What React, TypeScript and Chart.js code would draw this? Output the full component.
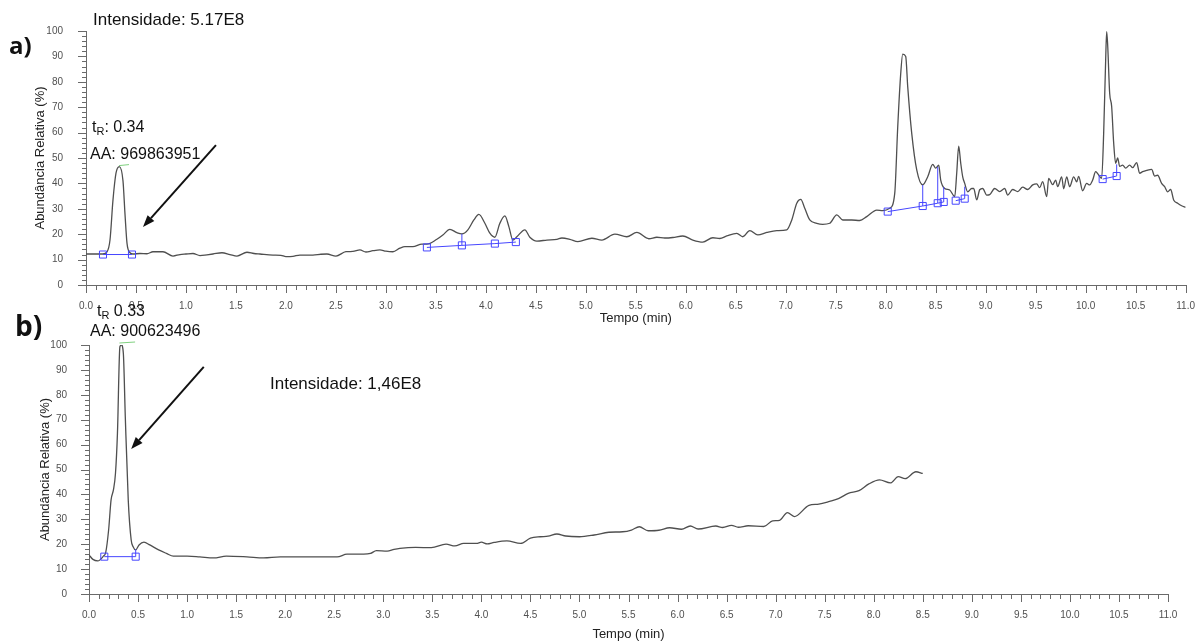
import React, { useEffect, useRef } from 'react';
import { Chart, registerables } from 'chart.js';

Chart.register(...registerables);

// ---------- Panel a) data ----------
const timeA = [
  0.0, 0.1, 0.17, 0.21, 0.24, 0.27, 0.3, 0.333, 0.37, 0.39, 0.41, 0.44, 0.47, 0.54, 0.61, 0.67, 0.77, 0.87, 0.94,
  1.0, 1.07, 1.14, 1.21, 1.27, 1.36, 1.44, 1.51, 1.61, 1.68, 1.74, 1.87, 1.95, 2.0, 2.07, 2.14, 2.27, 2.35, 2.41,
  2.5, 2.6, 2.67, 2.74, 2.8, 2.87, 2.94, 3.0, 3.07, 3.14, 3.19, 3.27, 3.36, 3.41, 3.51, 3.57, 3.64, 3.71, 3.76,
  3.82, 3.88, 3.93, 3.99, 4.04, 4.09, 4.14, 4.19, 4.23, 4.27, 4.31, 4.39, 4.44, 4.51, 4.61, 4.71, 4.76, 4.84,
  4.92, 5.06, 5.16, 5.29, 5.41, 5.51, 5.63, 5.71, 5.79, 5.87, 5.97, 6.07, 6.17, 6.27, 6.34, 6.41, 6.51, 6.57,
  6.64, 6.72, 6.81, 6.91, 7.01, 7.06, 7.11, 7.15, 7.19, 7.24, 7.31, 7.37, 7.44, 7.51, 7.57, 7.66, 7.74, 7.81,
  7.91, 7.97, 8.04, 8.09, 8.12, 8.15, 8.17, 8.2, 8.22, 8.26, 8.31, 8.37, 8.42, 8.47, 8.5, 8.53, 8.55, 8.59,
  8.64, 8.69, 8.71, 8.73, 8.75, 8.77, 8.79, 8.82, 8.86, 8.88, 8.91, 8.94, 8.97, 9.01, 9.04, 9.09, 9.14, 9.19,
  9.22, 9.27, 9.32, 9.37, 9.42, 9.47, 9.51, 9.54, 9.57, 9.61, 9.63, 9.67, 9.7, 9.72, 9.76, 9.78, 9.81, 9.84,
  9.88, 9.91, 9.93, 9.97, 10.01, 10.04, 10.07, 10.1, 10.13, 10.16, 10.18, 10.2, 10.21, 10.22, 10.24, 10.26,
  10.28, 10.3, 10.32, 10.34, 10.37, 10.4, 10.44, 10.47, 10.51, 10.54, 10.57, 10.61, 10.66, 10.69, 10.72,
  10.76, 10.79, 10.82, 10.85, 10.88, 10.92, 10.96, 11.0,
];
const abundanceA = [
  12.2, 12.2, 12.2, 13.0, 17.7, 33.5, 44.0, 46.6, 41.0, 28.0, 16.5, 12.7, 12.2, 12.4, 12.3, 13.1, 13.1, 11.4, 12.0,
  12.2, 12.4, 11.6, 11.9, 12.2, 12.7, 12.0, 11.4, 12.9, 12.4, 12.2, 11.8, 11.7, 11.2, 11.3, 11.8, 11.8, 12.1, 12.2,
  11.4, 13.1, 13.2, 13.8, 13.0, 13.5, 13.8, 13.3, 13.1, 14.5, 15.1, 15.1, 16.1, 16.1, 18.0, 19.7, 21.9, 20.6, 20.1,
  21.7, 25.6, 27.8, 24.3, 20.4, 18.8, 24.3, 27.2, 23.0, 17.7, 19.0, 21.7, 18.8, 17.3, 17.7, 18.0, 18.5, 18.0,
  17.1, 18.4, 17.7, 20.0, 19.0, 20.7, 18.2, 18.8, 18.5, 18.7, 19.3, 17.7, 16.9, 18.6, 18.3, 19.3, 20.3, 19.0,
  21.4, 19.7, 20.7, 21.4, 21.7, 25.6, 32.2, 33.7, 30.2, 25.6, 24.3, 23.9, 24.3, 27.6, 25.6, 25.6, 25.4, 26.9,
  29.5, 29.3, 30.2, 36.1, 62.3, 83.3, 90.9, 90.0, 78.0, 59.7, 45.3, 39.4, 42.6, 47.5, 46.0, 47.2, 41.3, 38.0,
  37.4, 34.8, 44.0, 54.7, 48.0, 42.6, 40.0, 36.7, 38.0, 38.0, 33.5, 37.5, 38.0, 35.4, 35.6, 38.0, 36.8, 38.0,
  35.4, 37.6, 36.8, 38.5, 37.6, 39.4, 39.8, 38.3, 40.7, 34.8, 42.0, 39.5, 41.3, 38.7, 42.6, 37.9, 42.6, 38.7,
  42.6, 40.6, 42.8, 37.1, 40.0, 39.4, 41.3, 44.6, 43.3, 42.0, 59.7, 88.6, 99.7, 94.5, 75.5, 70.3,
  56.0, 47.9, 50.0, 46.7, 47.2, 46.0, 47.2, 46.2, 48.2, 44.0, 44.6, 45.1, 45.5, 42.9, 43.2,
  40.0, 38.7, 36.7, 37.6, 33.5, 32.2, 31.2, 30.6,
];
// integration baselines (t, %) for panel a)
const baselinesA: [number, number][][] = [
  [[0.17, 12.0], [0.46, 12.0]],
  [[3.41, 14.8], [3.76, 15.6], [4.09, 16.3], [4.3, 16.9]],
  [[8.02, 28.9], [8.37, 31.1], [8.52, 32.2], [8.58, 32.7]],
  [[8.7, 33.2], [8.79, 34.0]],
  [[10.17, 41.7], [10.31, 42.9]],
];
const dropsA: [number, number][][] = [
  [[3.76, 15.6], [3.76, 20.1]],
  [[8.37, 31.1], [8.37, 39.4]],
  [[8.52, 32.2], [8.52, 46.5]],
  [[8.58, 32.7], [8.58, 38.5]],
  [[8.79, 34.0], [8.79, 38.7]],
  [[10.31, 42.9], [10.31, 47.5]],
];

// ---------- Panel b) data ----------
const timeB = [
  0.0, 0.04, 0.09, 0.147, 0.17, 0.2, 0.225, 0.25, 0.27, 0.29, 0.315, 0.33, 0.35, 0.37, 0.4, 0.43, 0.45, 0.476,
  0.51, 0.56, 0.62, 0.71, 0.79, 0.86, 1.0, 1.13, 1.27, 1.4, 1.61, 1.78, 1.95, 2.15, 2.36, 2.53, 2.63, 2.8, 2.87,
  2.93, 3.04, 3.11, 3.17, 3.33, 3.49, 3.64, 3.73, 3.82, 3.95, 4.0, 4.06, 4.13, 4.26, 4.4, 4.5, 4.6, 4.68, 4.77,
  4.86, 5.0, 5.15, 5.3, 5.44, 5.53, 5.61, 5.7, 5.81, 5.92, 6.04, 6.13, 6.21, 6.39, 6.46, 6.55, 6.62, 6.72, 6.88,
  6.97, 7.04, 7.12, 7.19, 7.34, 7.44, 7.55, 7.64, 7.74, 7.85, 7.95, 8.06, 8.17, 8.25, 8.32, 8.43, 8.5,
];
const abundanceB = [
  15.7, 13.9, 13.3, 15.2, 16.6, 25.7, 37.8, 42.0, 48.5, 64.5, 99.3, 100.0, 96.7, 71.2, 37.8, 21.7, 19.0, 17.7,
  19.7, 20.8, 19.7, 17.7, 16.3, 15.2, 15.2, 14.9, 14.5, 15.2, 14.9, 14.5, 14.9, 14.9, 14.9, 14.9, 16.0, 16.0, 16.3,
  17.4, 17.2, 17.9, 18.3, 18.7, 18.6, 20.0, 19.3, 20.3, 20.3, 20.8, 20.1, 20.7, 21.3, 20.3, 22.4, 23.0, 23.2, 24.1,
  23.3, 23.0, 23.7, 24.8, 25.0, 25.7, 27.0, 25.4, 25.6, 26.6, 26.0, 27.3, 26.1, 27.3, 26.7, 27.6, 26.8, 27.4, 27.1,
  29.4, 29.6, 32.7, 31.1, 35.6, 36.1, 37.2, 38.3, 40.4, 41.5, 44.2, 45.8, 44.6, 47.1, 46.3, 49.1, 48.4,
];
const baselinesB: [number, number][][] = [
  [[0.156, 15.0], [0.476, 15.0]],
];
const dropsB: [number, number][][] = [
  [[0.476, 15.0], [0.476, 18.0]],
];

const X_MIN = 0;
const X_MAX = 11;
const Y_MIN = 0;
const Y_MAX = 100;

const FONT = '"Liberation Sans", Arial, sans-serif';
const LINE = '#4f4f4f';
const AXIS = '#6a6a6a';
const TICK_TXT = '#505050';
const BLUE = '#4646ff';
const GREEN = '#7fd07f';

type Txt = { text: string; sub?: string; rest?: string; x: number; y: number; size: number; bold?: boolean };
type Arrow = { from: [number, number]; to: [number, number] };
type PanelCfg = {
  times: number[];
  values: number[];
  baselines: [number, number][][];
  drops: [number, number][][];
  texts: Txt[];
  arrows: Arrow[];
  greens: [number, number, number][]; // t1, t2, y
  padTop: number;
  padRight: number;
  padBottom: number;
  xAxisH: number;
  yAxisW: number;
  yTickPad: number;
  yTitlePad: number;
  xTitlePad: number;
};

const decorPlugin = (cfg: PanelCfg) => ({
  id: 'decor',
  afterDraw(chart: any) {
    const { ctx } = chart;
    const x = chart.scales.x;
    const y = chart.scales.y;
    ctx.save();
    // minor/major ticks
    ctx.strokeStyle = AXIS;
    ctx.lineWidth = 1;
    ctx.beginPath();
    for (let i = 0; i <= 110; i++) {
      const px = Math.round(x.getPixelForValue(i / 10)) + 0.5;
      const len = i % 5 === 0 ? 8 : 5;
      ctx.moveTo(px, y.bottom);
      ctx.lineTo(px, y.bottom + len);
    }
    for (let v = 0; v <= 100; v += 2) {
      const py = Math.round(y.getPixelForValue(v)) + 0.5;
      const len = v % 10 === 0 ? 8 : 4;
      ctx.moveTo(x.left - len, py);
      ctx.lineTo(x.left, py);
    }
    ctx.stroke();

    // green apex marks
    ctx.strokeStyle = GREEN;
    ctx.lineWidth = 1;
    for (const [t1, t2, v] of cfg.greens) {
      ctx.beginPath();
      ctx.moveTo(x.getPixelForValue(t1), y.getPixelForValue(v) + 1);
      ctx.lineTo(x.getPixelForValue(t2), y.getPixelForValue(v));
      ctx.stroke();
    }

    // arrows
    ctx.strokeStyle = '#111';
    ctx.fillStyle = '#111';
    ctx.lineWidth = 2;
    for (const a of cfg.arrows) {
      const x1 = x.getPixelForValue(a.from[0]);
      const y1 = y.getPixelForValue(a.from[1]);
      const x2 = x.getPixelForValue(a.to[0]);
      const y2 = y.getPixelForValue(a.to[1]);
      const ang = Math.atan2(y2 - y1, x2 - x1);
      const hl = 12;
      const hw = 4.5;
      const bx = x2 - hl * Math.cos(ang);
      const by = y2 - hl * Math.sin(ang);
      ctx.beginPath();
      ctx.moveTo(x1, y1);
      ctx.lineTo(bx, by);
      ctx.stroke();
      ctx.beginPath();
      ctx.moveTo(x2, y2);
      ctx.lineTo(bx + hw * Math.sin(ang), by - hw * Math.cos(ang));
      ctx.lineTo(bx - hw * Math.sin(ang), by + hw * Math.cos(ang));
      ctx.closePath();
      ctx.fill();
    }

    // texts
    ctx.fillStyle = '#111';
    ctx.textBaseline = 'middle';
    ctx.textAlign = 'left';
    for (const t of cfg.texts) {
      ctx.font = `${t.bold ? 'bold ' : ''}${t.size}px ${t.bold ? '"Open Sans", "Liberation Sans", Arial, sans-serif' : FONT}`;
      ctx.fillText(t.text, t.x, t.y);
      let cx = t.x + ctx.measureText(t.text).width;
      if (t.sub) {
        ctx.font = `${Math.round(t.size * 0.7)}px ${FONT}`;
        ctx.fillText(t.sub, cx, t.y + 4);
        cx += ctx.measureText(t.sub).width;
        ctx.font = `${t.size}px ${FONT}`;
      }
      if (t.rest) ctx.fillText(t.rest, cx, t.y);
    }
    ctx.restore();
  },
});

function buildChart(canvas: HTMLCanvasElement, cfg: PanelCfg) {
  const datasets: any[] = [
    {
      data: cfg.times.map((t, i) => ({ x: t, y: cfg.values[i] })),
      borderColor: LINE,
      borderWidth: 1.3,
      pointRadius: 0,
      cubicInterpolationMode: 'monotone',
      fill: false,
      order: 2,
    },
  ];
  for (const seg of cfg.drops) {
    datasets.push({
      data: seg.map(([t, v]) => ({ x: t, y: v })),
      borderColor: BLUE,
      borderWidth: 1,
      pointRadius: 0,
      order: 1,
    });
  }
  for (const seg of cfg.baselines) {
    datasets.push({
      data: seg.map(([t, v]) => ({ x: t, y: v })),
      borderColor: BLUE,
      borderWidth: 1,
      pointStyle: 'rect',
      pointRadius: 5,
      pointBorderColor: BLUE,
      pointBackgroundColor: 'rgba(255,255,255,0)',
      pointBorderWidth: 1,
      order: 0,
    });
  }
  const tickFont = { family: FONT, size: 10 };
  const titleFont = { family: FONT, size: 13 };
  return new Chart(canvas, {
    type: 'line',
    data: { datasets },
    options: {
      animation: false,
      responsive: false,
      devicePixelRatio: 1,
      events: [],
      layout: { padding: { top: cfg.padTop, left: 0, right: cfg.padRight, bottom: cfg.padBottom } },
      plugins: { legend: { display: false }, tooltip: { enabled: false } },
      scales: {
        x: {
          type: 'linear',
          min: X_MIN,
          max: X_MAX,
          afterFit: (s: any) => {
            s.height = cfg.xAxisH;
          },
          grid: { display: false },
          border: { display: true, color: AXIS, width: 1 },
          ticks: {
            stepSize: 0.5,
            autoSkip: false,
            maxRotation: 0,
            padding: 7,
            color: TICK_TXT,
            font: tickFont,
            callback: (v: any) => Number(v).toFixed(1),
          },
          title: {
            display: true,
            text: 'Tempo (min)',
            color: '#222',
            font: titleFont,
            padding: { top: 0, bottom: cfg.xTitlePad },
          },
        },
        y: {
          type: 'linear',
          min: Y_MIN,
          max: Y_MAX,
          afterFit: (s: any) => {
            s.width = cfg.yAxisW;
          },
          grid: { display: false },
          border: { display: true, color: AXIS, width: 1 },
          ticks: {
            stepSize: 10,
            autoSkip: false,
            padding: cfg.yTickPad,
            color: TICK_TXT,
            font: tickFont,
          },
          title: {
            display: true,
            text: 'Abundância Relativa (%)',
            color: '#222',
            font: titleFont,
            padding: { top: cfg.yTitlePad, bottom: 0 },
          },
        },
      },
      elements: { line: { tension: 0 } },
    } as any,
    plugins: [decorPlugin(cfg)],
  });
}

const panelA: PanelCfg = {
  times: timeA,
  values: abundanceA,
  baselines: baselinesA,
  drops: dropsA,
  texts: [
    { text: 'a)', x: 9, y: 47, size: 24, bold: true },
    { text: 'Intensidade: 5.17E8', x: 93, y: 20, size: 17 },
    { text: 't', sub: 'R', rest: ': 0.34', x: 92, y: 128, size: 16 },
    { text: 'AA: 969863951', x: 90, y: 155, size: 16 },
  ],
  arrows: [{ from: [1.3, 55.1], to: [0.57, 22.8] }],
  greens: [[0.33, 0.43, 47.4]],
  padTop: 31,
  padRight: 16,
  padBottom: 313,
  xAxisH: 45,
  yAxisW: 86,
  yTickPad: 15,
  yTitlePad: 33,
  xTitlePad: 4,
};

const panelB: PanelCfg = {
  times: timeB,
  values: abundanceB,
  baselines: baselinesB,
  drops: dropsB,
  texts: [
    { text: 'b)', x: 15, y: 328, size: 28, bold: true },
    { text: 't', sub: 'R', rest: ' 0.33', x: 97, y: 312, size: 16 },
    { text: 'AA: 900623496', x: 90, y: 332, size: 16 },
    { text: 'Intensidade: 1,46E8', x: 270, y: 384, size: 17 },
  ],
  arrows: [{ from: [1.17, 91.2], to: [0.43, 58.2] }],
  greens: [[0.31, 0.47, 101.2]],
  padTop: 345,
  padRight: 34,
  padBottom: 0,
  xAxisH: 49,
  yAxisW: 89,
  yTickPad: 14,
  yTitlePad: 38,
  xTitlePad: 1,
};

function Panel({ cfg }: { cfg: PanelCfg }) {
  const ref = useRef<HTMLCanvasElement | null>(null);
  useEffect(() => {
    if (!ref.current) return;
    const chart = buildChart(ref.current, cfg);
    return () => chart.destroy();
  }, [cfg]);
  return (
    <canvas
      ref={ref}
      width={1202}
      height={643}
      style={{ position: 'absolute', left: 0, top: 0, width: 1202, height: 643 }}
    />
  );
}

export default function App() {
  return (
    <div style={{ position: 'fixed', left: 0, top: 0, width: 1202, height: 643, background: '#fff' }}>
      <Panel cfg={panelA} />
      <Panel cfg={panelB} />
    </div>
  );
}
